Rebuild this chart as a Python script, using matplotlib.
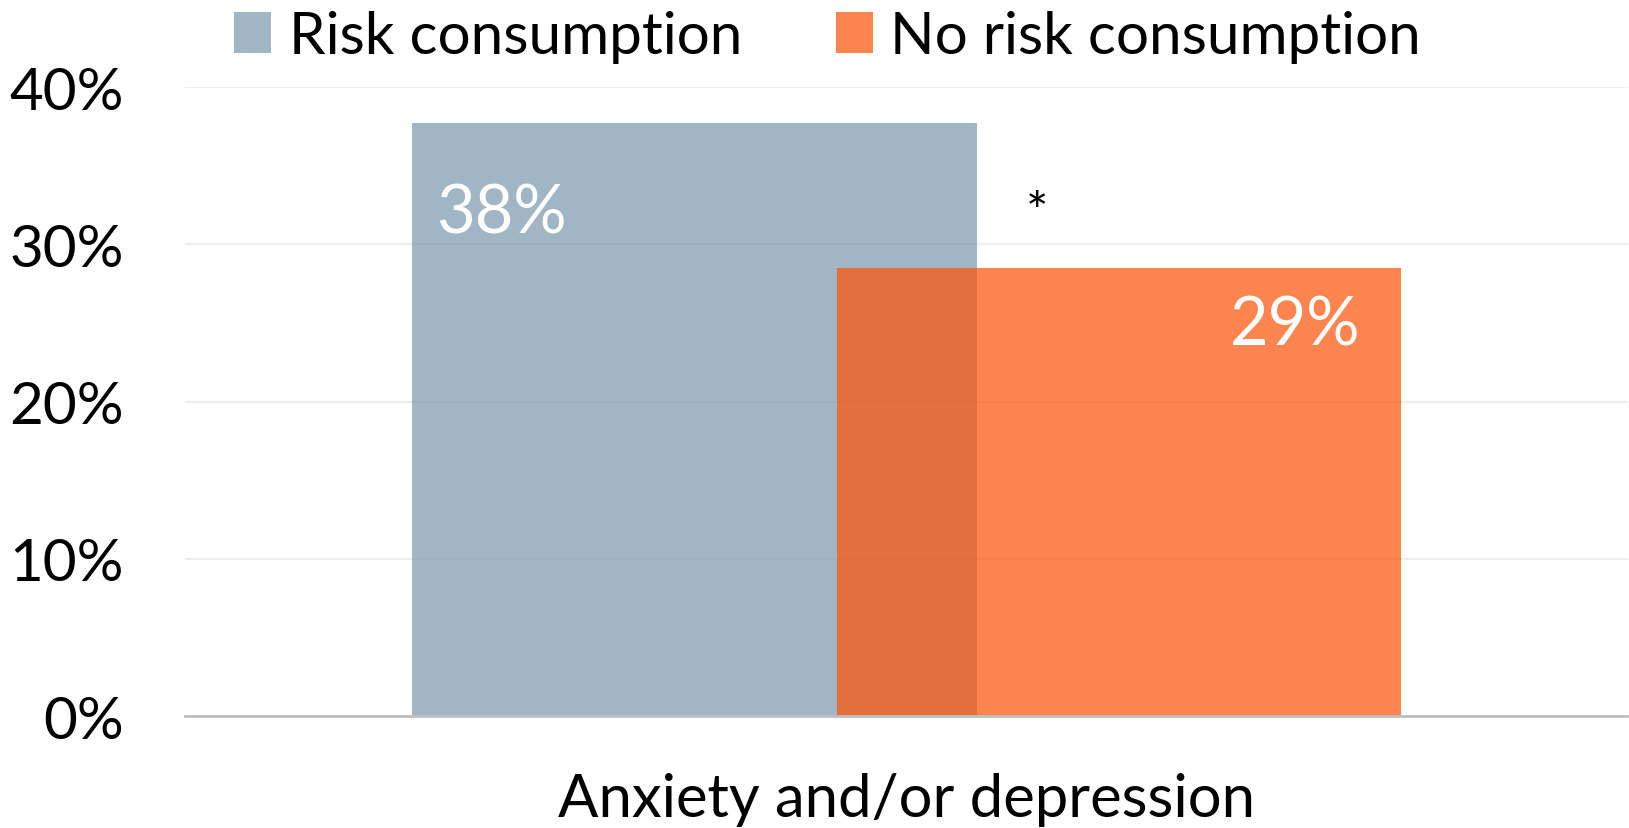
import matplotlib
matplotlib.use("Agg")
import matplotlib.pyplot as plt
from matplotlib.ticker import FuncFormatter

plt.rcParams['font.family'] = ['Lato', 'DejaVu Sans']

# Data
category = "Anxiety and/or depression"
series_names = ["Risk consumption", "No risk consumption"]
series_values = [0.377, 0.2851]
value_labels = [f"{round(v * 100):.0f}%" for v in series_values]
y_ticks = [0.0, 0.1, 0.2, 0.3, 0.4]
significance_mark = "*"

colors = ["#7A97AB", "#FE5104"]
alpha = 0.7

fig = plt.figure(figsize=(16.29, 8.29), dpi=100)
ax = fig.add_axes([0.1136, 0.1351, 0.886, 0.7587])

bar_width = 0.391
offsets = [-0.147, 0.147]
bars = []
for name, val, off, col in zip(series_names, series_values, offsets, colors):
    b = ax.bar(off, val, width=bar_width, color=col, alpha=alpha,
               label=name, zorder=2, linewidth=0)
    bars.append(b[0])

ax.set_xlim(-0.5, 0.5)
ax.set_ylim(0, 0.4)
ax.set_yticks(y_ticks)
ax.yaxis.set_major_formatter(FuncFormatter(lambda v, p: f"{v * 100:.0f}%"))
ax.tick_params(axis='y', length=0, pad=44, labelsize=42)
ax.set_xticks([0])
ax.set_xticklabels([category], fontsize=43)
ax.tick_params(axis='x', length=0, pad=40)

ax.grid(axis='y', color='#EDEDED', linewidth=1.5, zorder=0)
for s in ['top', 'right', 'left']:
    ax.spines[s].set_visible(False)
ax.spines['bottom'].set_color('#BFBFBF')
ax.spines['bottom'].set_linewidth(2)
ax.spines['bottom'].set_zorder(3)

# Value labels inside the bars
b0, b1 = bars
ax.annotate(value_labels[0], xy=(b0.get_x(), b0.get_height()),
            xytext=(24, -90), textcoords='offset pixels',
            ha='left', va='center', color='white', fontsize=48, zorder=4)
ax.annotate(value_labels[1], xy=(b1.get_x() + b1.get_width(), b1.get_height()),
            xytext=(-41, -58), textcoords='offset pixels',
            ha='right', va='center', color='white', fontsize=48, zorder=4)

# Significance marker
ax.text(0.09, 0.319, significance_mark, ha='center', va='center',
        fontsize=38, color='black', zorder=4)

fig.legend(loc='upper center', bbox_to_anchor=(0.508, 1.05), ncol=2,
           frameon=False, fontsize=42, handlelength=0.64, handleheight=0.7,
           handletextpad=0.3, columnspacing=1.6)

fig.savefig("out.png", dpi=100, facecolor='white')
